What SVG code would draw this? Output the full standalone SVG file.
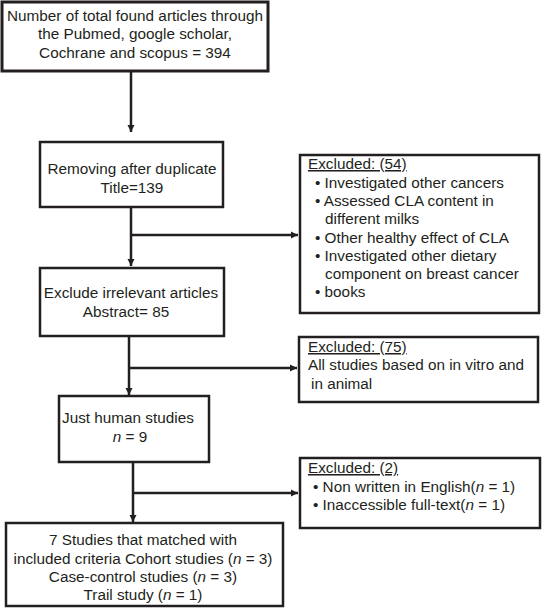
<svg xmlns="http://www.w3.org/2000/svg" width="542" height="608" viewBox="0 0 542 608">
<style>
.box{fill:#fff;stroke:#231f20;stroke-width:2.5}
.ln{fill:none;stroke:#231f20;stroke-width:2.5}
text{font-family:"Liberation Sans",Arial,sans-serif;font-size:15.3px;fill:#231f20}
.c{text-anchor:middle}
.u{text-decoration:underline}
</style>
<defs>
<marker id="ah" viewBox="0 0 10 10" refX="10" refY="5" markerWidth="3" markerHeight="3" orient="auto" markerUnits="strokeWidth">
<path d="M0,0 L10,5 L0,10 z" fill="#231f20"/>
</marker>
</defs>
<g id="connectors">
<line class="ln" x1="131" y1="72" x2="131" y2="132" marker-end="url(#ah)"/>
<line class="ln" x1="131" y1="207" x2="131" y2="266" marker-end="url(#ah)"/>
<line class="ln" x1="131" y1="235" x2="298" y2="235" marker-end="url(#ah)"/>
<line class="ln" x1="129" y1="336" x2="129" y2="395" marker-end="url(#ah)"/>
<line class="ln" x1="129" y1="368" x2="297" y2="368" marker-end="url(#ah)"/>
<line class="ln" x1="133" y1="462" x2="133" y2="522" marker-end="url(#ah)"/>
<line class="ln" x1="133" y1="493" x2="298" y2="493" marker-end="url(#ah)"/>
</g>
<g id="n1">
<rect class="box" x="2" y="2" width="266" height="69" style="stroke-width:3"/>
<text class="c" x="135" y="21">Number of total found articles through</text>
<text class="c" x="135" y="39">the Pubmed, google scholar,</text>
<text class="c" x="135" y="58">Cochrane and scopus = 394</text>
</g>
<g id="n2">
<rect class="box" x="40" y="142" width="183" height="65"/>
<text class="c" x="132" y="174">Removing after duplicate</text>
<text class="c" x="132" y="193">Title=139</text>
</g>
<g id="ex1">
<rect class="box" x="300" y="155" width="239" height="158"/>
<text x="308" y="169" class="u">Excluded: (54)</text>
<text x="315" y="188">• Investigated other cancers</text>
<text x="315" y="206">• Assessed CLA content in</text>
<text x="325" y="224">different milks</text>
<text x="315" y="243">• Other healthy effect of CLA</text>
<text x="315" y="261">• Investigated other dietary</text>
<text x="325" y="279">component on breast cancer</text>
<text x="315" y="297">• books</text>
</g>
<g id="n3">
<rect class="box" x="40" y="268" width="184" height="68"/>
<text class="c" x="131" y="298">Exclude irrelevant articles</text>
<text class="c" x="126" y="317">Abstract= 85</text>
</g>
<g id="ex2">
<rect class="box" x="299" y="337" width="239" height="65"/>
<text x="308" y="352" class="u">Excluded: (75)</text>
<text x="308" y="370">All studies based on in vitro and</text>
<text x="311" y="389">in animal</text>
</g>
<g id="n4">
<rect class="box" x="59" y="396" width="150" height="66"/>
<text x="62" y="423">Just human studies</text>
<text class="c" x="130" y="442"><tspan font-style="italic">n</tspan> = 9</text>
</g>
<g id="ex3">
<rect class="box" x="300" y="458" width="240" height="70"/>
<text x="308" y="473" class="u">Excluded: (2)</text>
<text x="313" y="492">• Non written in English(<tspan font-style="italic">n</tspan> = 1)</text>
<text x="313" y="510">• Inaccessible full-text(<tspan font-style="italic">n</tspan> = 1)</text>
</g>
<g id="n5">
<rect class="box" x="6" y="523" width="277" height="83"/>
<text class="c" x="143" y="545">7 Studies that matched with</text>
<text class="c" x="143" y="564">included criteria Cohort studies (<tspan font-style="italic">n</tspan> = 3)</text>
<text class="c" x="143" y="582">Case-control studies (<tspan font-style="italic">n</tspan> = 3)</text>
<text class="c" x="143" y="600">Trail study (<tspan font-style="italic">n</tspan> = 1)</text>
</g>
</svg>
